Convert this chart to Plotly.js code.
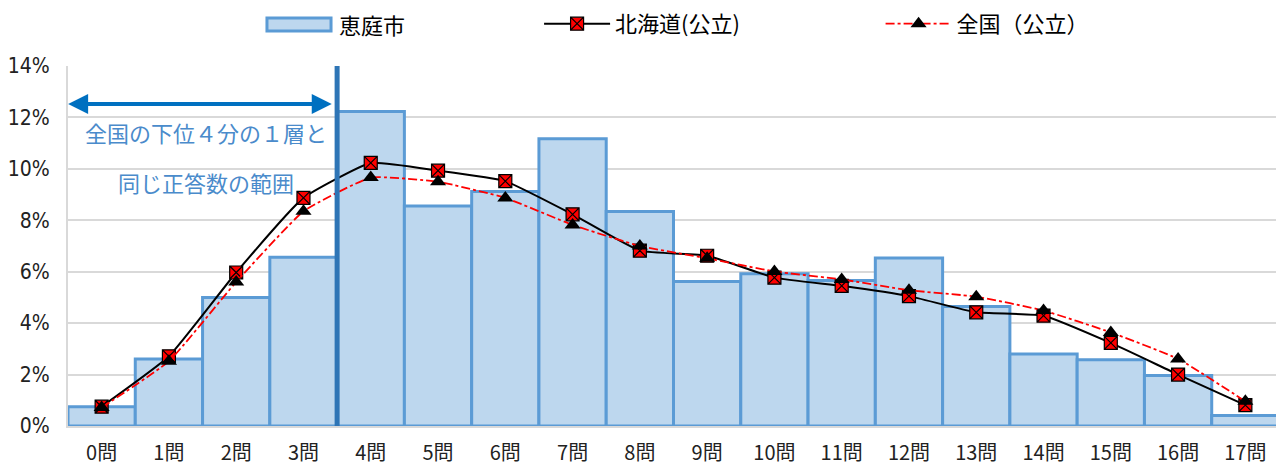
<!DOCTYPE html>
<html><head><meta charset="utf-8">
<script src="https://cdn.plot.ly/plotly-3.0.1.min.js"></script>
<style>html,body{margin:0;padding:0;overflow:hidden;background:#fff}</style>
</head><body>
<div id="chart" style="width:1279px;height:468px"></div>
<script>
const categories = ["0問","1問","2問","3問","4問","5問","6問","7問","8問","9問","10問","11問","12問","13問","14問","15問","16問","17問"];
const eniwa = [0.75,2.61,5.0,6.56,12.23,8.56,9.12,11.17,8.34,5.62,5.92,5.66,6.53,4.65,2.80,2.58,1.96,0.41];
const hokkaido = [0.75,2.71,5.97,8.87,10.23,9.93,9.52,8.23,6.82,6.62,5.77,5.45,5.05,4.42,4.29,3.23,2.0,0.81];
const zenkoku = [0.72,2.52,5.6,8.35,9.66,9.5,8.87,7.82,7.0,6.52,6.01,5.7,5.28,5.03,4.49,3.64,2.61,0.96];
const yTicks = [0,2,4,6,8,10,12,14];
const yTickText = ["0%","2%","4%","6%","8%","10%","12%","14%"];
const seriesNames = ["恵庭市","北海道(公立)","全国（公立）"];
const noteLines = ["全国の下位４分の１層と","同じ正答数の範囲"];

const font = "'Noto Sans CJK JP', 'Noto Sans', sans-serif";
const xs = categories.map((_, i) => i);

const traces = [
  {type:'bar', x: xs, y: eniwa, name: seriesNames[0], showlegend:false,
   marker:{color:'#BDD7EE', line:{color:'#5B9BD5', width:3}}, hoverinfo:'skip'},
  {type:'scatter', mode:'lines+markers', x: xs, y: hokkaido, name: seriesNames[1], legend:'legend',
   line:{color:'#000000', width:2, shape:'spline', smoothing:0.4},
   marker:{symbol:'square-x', size:13, color:'#FF0000', line:{color:'#000000', width:1.2}}},
  {type:'scatter', mode:'lines+markers', x: xs, y: zenkoku, name: seriesNames[2], legend:'legend2',
   line:{color:'#FF0000', width:1.8, dash:'dashdot', shape:'spline', smoothing:0.4},
   marker:{symbol:'triangle-up', size:14, color:'#000000', line:{width:0}}}
];

const legendBase = {orientation:'h', yanchor:'middle', xanchor:'left', y:1.117,
  font:{family:font, size:22, color:'#000'}, bgcolor:'rgba(0,0,0,0)', itemwidth:66};

const layout = {
  width:1279, height:468,
  margin:{l:68, r:0, t:66, b:41.5},
  paper_bgcolor:'#fff', plot_bgcolor:'#fff',
  bargap:0,
  showlegend:true,
  legend: Object.assign({}, legendBase, {x:0.389}),
  legend2: Object.assign({}, legendBase, {x:0.671}),
  xaxis:{range:[-0.5,17.5], tickvals: xs, ticktext: categories, showgrid:false,
    showline:true, linecolor:'#D9D9D9', linewidth:2, ticks:'', zeroline:false,
    ticklabelstandoff:8, tickfont:{family:font, size:20, color:'#222'}, fixedrange:true},
  yaxis:{range:[0,14], tickvals: yTicks, ticktext: yTickText, showgrid:true,
    gridcolor:'#D9D9D9', gridwidth:2, showline:true, linecolor:'#D9D9D9', linewidth:2,
    zeroline:false, ticks:'outside', ticklen:12, tickcolor:'rgba(0,0,0,0)',
    tickfont:{family:"'Liberation Sans Narrow', 'DejaVu Sans Condensed', sans-serif", size:21, color:'#222'}, fixedrange:true},
  shapes:[
    {type:'line', xref:'x', yref:'y', x0:3.5, x1:3.5, y0:-0.22, y1:14,
     line:{color:'#2E75B6', width:5}},
    {type:'rect', xref:'paper', yref:'paper', x0:0.1643, x1:0.2172, y0:1.0971, y1:1.1331,
     fillcolor:'#BDD7EE', line:{color:'#5B9BD5', width:3}}
  ],
  annotations:[
    {xref:'paper', yref:'paper', x:0.2225, y:1.117, xanchor:'left', yanchor:'middle',
     text: seriesNames[0], showarrow:false, font:{family:font, size:22, color:'#000'}},
    {xref:'x', yref:'y', x:3.42, y:12.52, ax:-0.52, ay:12.52, axref:'x', ayref:'y',
     text:'', showarrow:true, arrowhead:2, arrowside:'end+start', arrowsize:1, arrowwidth:4,
     arrowcolor:'#0070C0', standoff:0, startstandoff:0},
    {xref:'x', yref:'y', x:1.55, y:11.45, text: noteLines[0], showarrow:false,
     font:{family:font, size:22, color:'#4A8BCB'}},
    {xref:'x', yref:'y', x:1.55, y:9.5, text: noteLines[1], showarrow:false,
     font:{family:font, size:22, color:'#4A8BCB'}}
  ]
};

Plotly.newPlot('chart', traces, layout, {staticPlot:true, displayModeBar:false});
</script>
</body></html>
